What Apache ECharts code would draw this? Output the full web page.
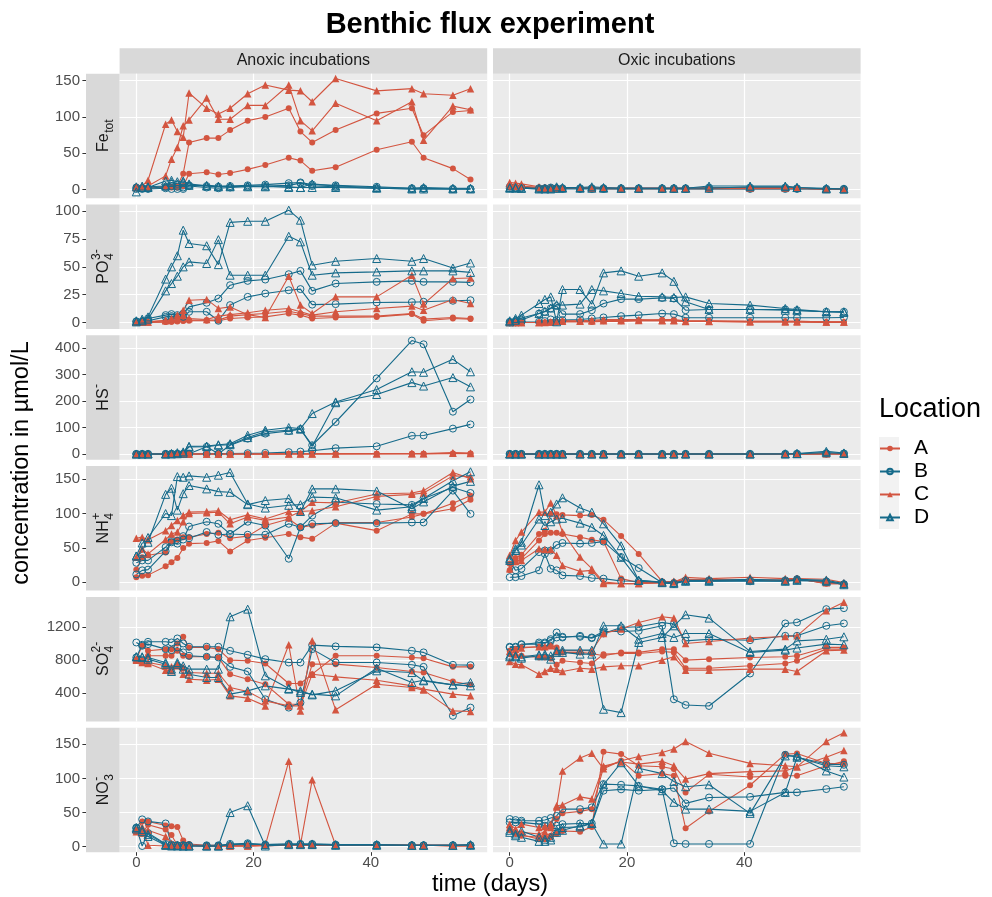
<!DOCTYPE html>
<html><head><meta charset="utf-8">
<script src="https://cdn.jsdelivr.net/npm/echarts@6/dist/echarts.min.js"></script>
<style>html,body{margin:0;padding:0;background:#fff}#chart{width:992px;height:897px}</style>
</head><body><div id="chart"></div>
<script>
// ---------------- DATA ----------------
const days = [0,1,2,5,6,7,8,9,12,14,16,19,22,26,28,30,34,41,47,49,54,57];
const locations = ['A','B','C','D'];
const conditions = ['Anoxic incubations','Oxic incubations'];
const xTicks = [0,20,40];

// Fe_tot
const feTicks = [0,50,100,150];
const feAnoxA = [[4,3,3,4,4,5,22,65,71,71,82,95,100,112,80,65,82,105,112,75,107,109],[3,3,2,3,3,3,5,22,24,21,23,28,34,44,40,26,31,55,66,44,29,14]];
const feAnoxB = [[3,2,2,4,5,4,3,6,5,4,5,6,7,9,10,7,6,4,2,2,1,1],[1,1,1,2,1,1,1,5,3,2,3,4,5,6,9,5,4,2,1,1,1,1]];
const feAnoxC = [[3,5,13,90,96,80,72,133,112,104,112,132,144,137,136,121,153,136,139,132,130,139],[4,4,5,19,42,58,88,96,126,97,97,116,116,144,95,81,119,95,121,68,115,110]];
const feAnoxD = [[-3,3,3,12,13,11,12,8,5,4,4,5,5,3,3,8,5,3,2,3,2,2],[4,5,4,5,10,8,10,6,6,5,5,4,4,4,3,3,3,2,1,1,1,1]];
const feOxA = [[5,4,4,3,3,3,2,2,2,2,2,2,2,2,2,2,2,2,2,2,1,1],[3,3,3,2,2,2,2,2,2,2,1,1,1,1,1,1,1,1,1,1,1,1]];
const feOxB = [[4,3,3,2,2,3,2,2,2,2,2,2,2,2,2,2,3,3,3,2,1,1],[2,2,2,1,1,1,1,1,1,1,1,1,1,1,1,1,1,1,1,1,1,1]];
const feOxC = [[10,9,8,4,3,3,3,2,2,3,2,2,2,2,2,2,2,2,2,2,1,1],[7,6,5,3,2,2,2,2,2,2,2,2,2,2,2,2,2,2,2,2,1,1]];
const feOxD = [[3,3,2,2,2,2,4,3,3,4,3,2,2,2,2,2,5,5,5,3,2,1],[2,2,2,1,1,1,2,2,2,2,2,2,2,2,2,2,2,4,4,3,1,1]];

// PO4
const poTicks = [0,25,50,75,100];
const poAnoxA = [[0,0,0.3,0.6,0.6,1.2,1.5,2.1,2.1,2.1,5.7,7,8,10,8,5.7,5.7,5.7,8,3,4.5,3.6],[0,0,0,0.3,0.6,0.9,1.2,1.5,1.5,1.5,3.6,4.5,5,8,6.6,3.6,4.5,5,7.5,1.5,3.6,3]];
const poAnoxB = [[1,1,3.6,6.6,7.5,6.6,8,14,17.7,21.5,33.5,37.4,38.6,43.4,46.4,28.4,35,36.5,37.4,36.5,36.5,36],[0.5,0.5,1.5,5,5.7,5,5,9.6,9.6,1.5,15.6,23,26,29,30,16,16.5,18,18.3,18.6,19.5,20]];
const poAnoxC = [[0.5,0.5,0.5,2,3.6,6.6,11,20,20.7,12.6,14,7,4.5,41.6,15.6,8,23,23,42.5,16.5,39.5,40],[0.5,0.5,0.5,1.5,2.7,4.5,6.6,3.6,2.7,5.7,7,8.7,11,12.6,9.6,6.6,9.6,12.6,14.7,11,20.7,17]];
const poAnoxD = [[1.5,3,5,39,50,60,83,71,69,52,90,91,91,101,92,51.5,55,57.5,55,57.5,49,53.5],[0.5,1.5,3,28.4,35,41.6,50,54.5,53,74.5,42.5,42.5,42.5,77.5,72.5,42.5,44.6,45.5,46.4,46.4,46.4,45]];
const poOxA = [[0,0,0,0,0,0.5,0.5,1,1,1,1.5,2,2,2.5,2.5,1.5,1.5,1,1,1,0.5,0.5],[0,0,0,0,0,0,0,0.5,0.5,0.5,1,1,1.5,1.5,1.5,1,1,0.5,0.5,0.5,0,0]];
const poOxB = [[0.6,1.5,2.1,8,9.6,12.6,14.7,7.5,7.5,11,17,21,21,22,21.5,11,11.7,11.7,11.7,11,9.6,9.6],[0,0,0.3,0.6,1.2,2.7,2.1,2.1,2.7,3.6,4.5,5.7,6.6,8,7.5,4.2,4.2,4.2,4.2,4.2,4.2,4.5]];
const poOxC = [[0.5,0,0,0,0,0.5,1,1.5,1.5,2,2.5,2.5,2.5,2,2,1,1,1,1,1,0.5,0.5],[0,0,0,0,0.3,0.5,0.8,1,1,1.2,1.5,1.5,1.8,1.5,1.5,0.8,0.8,0.5,0.5,0.5,0.3,0.3]];
const poOxD = [[1.5,3.6,6.6,17,20.7,23,0.6,29.6,29.6,16.5,44.6,46.4,41.6,44.6,37,18.6,11.7,11.7,11,10.5,9.6,9],[0.5,2,4,8,10,13,16,15.6,16.5,29.6,28.4,26,23.6,23,22.5,23,17,15.6,12.6,11.5,9.6,9.6]];

// HS
const hsTicks = [0,100,200,300,400];
const hsAnoxA = [[0,0,0,0,0,0,0,0,0,0,0,0,0,1,1,1,1,1,1,1,2,2],[0,0,0,0,0,0,0,0,0,0,0,0,0,0,0,0,1,1,1,1,1,1]];
const hsAnoxB = [[0,0,0,0,1,1,1,1,27,1,33,58,77,87,94,33,121,286,429,415,160,206],[0,0,0,0,0,0,0,0,1,1,2,3,4,7,9,12,22,29,69,70,96,112]];
const hsAnoxC = [[0,0,0,0,0,0,0,0,0,0,0,0,0,1,1,1,1,1,2,2,5,4],[0,0,0,0,0,0,0,0,0,0,0,0,0,0,0,0,0,1,1,1,3,2]];
const hsAnoxD = [[0,0,0,0,2,5,8,29,30,35,39,71,90,100,96,153,197,244,311,309,358,311],[0,0,0,0,0,1,3,27,28,33,35,62,84,90,94,29,194,225,270,257,289,254]];
const hsOxA = [[0,0,0,0,0,0,0,0,0,0,0,0,0,0,0,0,0,0,0,0,1,1],[0,0,0,0,0,0,0,0,0,0,0,0,0,0,0,0,0,0,0,0,0,0]];
const hsOxB = [[0,0,0,0,0,0,0,0,0,0,0,0,0,0,0,0,0,0,0,1,3,2],[0,0,0,0,0,0,0,0,0,0,0,0,0,0,0,0,0,0,0,0,1,1]];
const hsOxC = [[0,0,0,0,0,0,0,0,0,0,0,0,0,0,0,0,0,0,0,1,2,1],[0,0,0,0,0,0,0,0,0,0,0,0,0,0,0,0,0,0,0,0,1,0]];
const hsOxD = [[0,0,0,0,0,0,0,0,0,0,0,0,0,0,0,0,0,0,1,2,10,4],[0,0,0,0,0,0,0,0,0,0,0,0,0,0,0,0,0,0,0,1,5,2]];

// NH4
const nhTicks = [0,50,100,150];
const nhAnoxA = [[7,9,10,23,29,35,49.5,56,57,60,44.7,60.7,64.6,70,65.5,63,86,75,99.5,99.5,107,120],[18,36,39,43,59,62,65.5,65.5,70,72,64,67,82.5,92,80,82.5,87,87,95,99.5,115,126]];
const nhAnoxB = [[11,17,18,45,58,56,67,64,73,69,70,88,82.5,34,80,97,116.5,114,112.6,122,138,130],[28,31.5,31.5,51,60,60,62,81,88,85,70,69,69,85,80,85,86,86,87,87,133.5,99.5]];
const nhAnoxC = [[64,65.5,61.6,75,82.5,90,97,102,103,104,91,98,92,103,103,116.5,115.5,128.6,130,133.5,160,151],[36,48,41,62,70,73,88,100,101,102,85,95,90,95,103,104,110,125,128,130,155,154]];
const nhAnoxD = [[38,57,58,128,137,105,129,141,136,132,131,113,119,122,103,136,136,133,107,117,140,147],[38,44,65,100,97,154,153,155,153,156,160,114,108,112,113,124,123,105,110,122,148,161]];
const nhOxA = [[26.7,35,39.8,70,75,99.5,99,98,97,98,91,67,41,1,0,4,2.4,2.4,2.4,5,-2.4,-2.4],[17,29,34,60.7,70,72,72,70,65.5,61.6,59,4.9,-1,-1,0,2.4,2.4,2.4,2.4,5,-2.4,-2.4]];
const nhOxB = [[7,7,8.7,17,41,19.4,17,9.7,8.7,5.8,4.9,1.5,1,-1,-2.4,1,1,1,1,2.4,1,-3.4],[30,17,19.4,43.7,46,46,54,57,56,57,59,36.4,20.4,-1,-2.4,2.4,2.4,2.4,2.4,4,0,-3.4]];
const nhOxC = [[39,60.7,73,102,102,115.5,97,73,36.4,19.4,0,-2.4,-2.4,-1,0,7,4.9,7,4.9,4.9,4,-1],[19.4,30,31.5,48.5,47.6,47.6,39,24,15.5,17,-2.4,-2.4,-2.4,-1,1,4,4,2.4,2.4,4,-1,-2.4]];
const nhOxD = [[31.5,46,58,142,97,102,114,123,108,102,85,53,2.4,-1,-2.4,2.4,2.4,4,2.4,2.4,1,-4],[34,48.5,54,92,82.5,88,92,93,86,80,68,36,2.4,0,-1,1,1,2.4,1,4,2.4,-2.4]];

// SO4
const soTicks = [400,800,1200];
const soAnoxA = [[812,975,914,934,934,1003,1084,955,955,934,800,792,759,515,515,629,853,853,833,824,718,718],[800,792,853,853,853,914,853,841,841,833,629,568,507,263,263,751,751,710,662,649,540,499]];
const soAnoxB = [[1015,975,1023,1023,1015,1064,1003,963,963,963,914,865,812,771,771,983,967,955,914,894,743,739],[833,987,995,934,922,955,894,853,841,833,718,662,323,222,283,934,771,771,743,718,122,222]];
const soAnoxC = [[800,771,759,678,670,731,629,568,556,568,365,337,243,987,182,1035,195,507,467,435,182,174],[812,792,771,731,718,751,710,649,641,641,467,418,304,243,243,629,596,556,487,447,386,365]];
const soAnoxD = [[841,841,833,771,662,771,731,690,690,690,1328,1421,609,455,406,386,365,702,528,556,499,528],[841,833,812,751,690,751,690,629,589,589,386,426,487,447,426,377,426,670,649,548,499,487]];
const soOxA = [[914,934,955,963,955,975,955,894,894,881,853,894,894,934,934,800,812,833,841,853,955,955],[873,853,853,833,833,820,743,792,771,759,873,881,881,906,894,702,702,731,759,792,934,934]];
const soOxB = [[963,963,987,1015,1015,1035,1137,1076,1096,1076,1149,1149,1157,1218,323,254,242,637,1247,1259,1421,1433],[955,955,995,995,1003,1055,1076,1084,1084,1068,1125,1198,1206,1259,1239,1035,1055,1043,1096,1096,1218,1247]];
const soOxC = [[906,934,947,963,963,975,906,914,914,914,1125,1178,1259,1328,1312,1003,1027,1068,1088,1096,1402,1504],[784,751,743,629,662,702,690,662,702,690,718,731,731,800,841,678,678,690,690,662,914,922]];
const soOxD = [[861,853,841,865,853,812,914,922,922,922,202,161,1015,1076,1218,1353,1312,906,934,1035,1055,1084],[841,841,824,853,873,853,894,894,873,873,1218,1218,1055,1125,1076,1125,1125,894,922,947,995,987]];

// NO3
const noTicks = [0,50,100,150];
const noAnoxA = [[22,37,37,31,30,29,9,4,2,2,2,2,2,2,2,2,2,2,2,2,1,1],[25,19,32,25,17,2,2,2,1,1,1,1,1,2,2,2,2,2,2,2,1,1]];
const noAnoxB = [[27,40,37,34,2,2,2,2,2,2,4,5,3,4,4,4,3,3,2,2,2,2],[28,1,20,4,3,2,2,2,1,1,2,3,2,3,3,3,2,2,2,2,2,2]];
const noAnoxC = [[24,29,2,1,1,1,1,1,1,1,1,1,2,125,3,98,2,2,2,2,2,2],[22,20,24,15,5,3,2,2,1,1,1,1,2,3,3,2,2,2,2,2,2,2]];
const noAnoxD = [[28,22,15,2,1,1,1,1,1,1,50,60,1,3,3,3,2,2,2,2,2,3],[26,25,18,3,2,2,1,1,1,1,3,4,3,4,4,4,3,3,2,2,2,2]];
const noOxA = [[27,21,17.6,11,11,13.7,18.5,23,22,29,139,135.6,118.5,117,113.7,79.5,106,102,104,104,118.5,125],[24,18.5,16,13.7,13.7,16,40.5,49,51.7,55,116,126,104,107,104,27,51.7,90,135.6,136.6,122,121]];
const noOxB = [[40.5,39,38,38,39,42,45,55,55,57.6,91.7,90.7,89,84,5,4,4,4,134.6,131,121,120],[35.6,35.6,35.6,33,30.7,30.7,30.7,33,34,34,82,84,82,84,86,63.4,72,73,79.5,79.5,84.4,87.8]];
const noOxC = [[33,26,33,28,30,33,58,111,130,137,114,126,132,138,143,154,137,122,118.5,117,154,167],[28,23,21,18.5,22,28,60,61,73,70,118,124,121,125,118.5,99,107,110,111,117,131,141]];
const noOxD = [[24,18.5,23,13.7,11,13.7,21,24,30.7,34,4,4,115,107,95.6,87.8,90.7,48.8,133,133,111,102],[21,16,13.7,7.8,7.8,9.8,24,28,29,34,90.7,123,89,82,65,55,55,51.7,79.5,131,118.5,117]];

// ---------------- STYLE / LAYOUT ----------------
const FONT = '"Liberation Sans", Arial, Helvetica, sans-serif';
const RED = '#D35540', BLUE = '#156A8A';
const locStyle = {
  A: {color: RED,  symbol: 'circle',   size: 6,   filled: true},
  B: {color: BLUE, symbol: 'circle',   size: 7,   filled: false},
  C: {color: RED,  symbol: 'triangle', size: 7.5, filled: true},
  D: {color: BLUE, symbol: 'triangle', size: 8,   filled: false}
};
const rowsDef = [
  {main:'Fe', sub:'tot', sup:'',   range:[-11.7,159.6], ticks:feTicks, sets:[[feAnoxA,feAnoxB,feAnoxC,feAnoxD],[feOxA,feOxB,feOxC,feOxD]]},
  {main:'PO', sub:'4',   sup:'3-', range:[-5.9,106.1],  ticks:poTicks, sets:[[poAnoxA,poAnoxB,poAnoxC,poAnoxD],[poOxA,poOxB,poOxC,poOxD]]},
  {main:'HS', sub:'',    sup:'-',  range:[-22,449],     ticks:hsTicks, sets:[[hsAnoxA,hsAnoxB,hsAnoxC,hsAnoxD],[hsOxA,hsOxB,hsOxC,hsOxD]]},
  {main:'NH', sub:'4',   sup:'+',  range:[-12.6,169.3], ticks:nhTicks, sets:[[nhAnoxA,nhAnoxB,nhAnoxC,nhAnoxD],[nhOxA,nhOxB,nhOxC,nhOxD]]},
  {main:'SO', sub:'4',   sup:'2-', range:[54,1570],     ticks:soTicks, sets:[[soAnoxA,soAnoxB,soAnoxC,soAnoxD],[soOxA,soOxB,soOxC,soOxD]]},
  {main:'NO', sub:'3',   sup:'-',  range:[-8.1,174.3],  ticks:noTicks, sets:[[noAnoxA,noAnoxB,noAnoxC,noAnoxD],[noOxA,noOxB,noOxC,noOxD]]}
];
const X_MIN = -2.85, X_MAX = 59.85;
const PANEL_LEFT = [119.6, 493];
const PANEL_W = 367.6, PANEL_TOP0 = 73.7, PANEL_H = 124.5, ROW_STEP = 130.8;
const STRIP_LEFT_X = 86;

const grids = [], xAxes = [], yAxes = [], series = [];
rowsDef.forEach((row, r) => {
  row.sets.forEach((locArrs, c) => {
    const idx = r * 2 + c;
    const bottomRow = r === rowsDef.length - 1;
    grids.push({left: PANEL_LEFT[c], top: PANEL_TOP0 + r * ROW_STEP, width: PANEL_W, height: PANEL_H,
      show: true, backgroundColor: '#EBEBEB', borderWidth: 0, containLabel: false, outerBoundsMode: 'none'});
    xAxes.push({gridIndex: idx, type: 'value', min: X_MIN, max: X_MAX, position: 'bottom',
      axisLine: {show: false, onZero: false},
      axisTick: {show: bottomRow, length: 3.6, customValues: xTicks, lineStyle: {color: '#333333', width: 1}},
      axisLabel: {show: bottomRow, customValues: xTicks, margin: 3, fontSize: 15, color: '#4D4D4D', fontFamily: FONT,
        formatter: v => String(v)},
      splitLine: {show: true, lineStyle: {color: '#FFFFFF', width: 1.2}}});
    yAxes.push({gridIndex: idx, type: 'value', min: row.range[0], max: row.range[1], position: 'left',
      offset: c === 0 ? PANEL_LEFT[0] - STRIP_LEFT_X : 0,
      axisLine: {show: false, onZero: false},
      axisTick: {show: c === 0, length: 3.6, customValues: row.ticks, lineStyle: {color: '#333333', width: 1}},
      axisLabel: {show: c === 0, customValues: row.ticks, margin: 6, fontSize: 15, color: '#4D4D4D', fontFamily: FONT,
        formatter: v => String(v)},
      splitLine: {show: true, lineStyle: {color: '#FFFFFF', width: 1.2}}});
    locArrs.forEach((reps, li) => {
      const L = locations[li];
      const st = locStyle[L];
      reps.forEach(vals => {
        series.push({
          type: 'line', name: L, xAxisIndex: idx, yAxisIndex: idx,
          data: days.map((d, i) => [d, vals[i]]),
          symbol: st.symbol, symbolSize: st.size, showSymbol: true, silent: true,
          lineStyle: {color: st.color, width: 1.1, opacity: 1},
          itemStyle: st.filled ? {color: st.color, borderWidth: 0}
                               : {color: 'rgba(0,0,0,0)', borderColor: st.color, borderWidth: 1},
          emphasis: {disabled: true}
        });
      });
    });
  });
});

// strip labels with sub/superscripts
const mctx = document.createElement('canvas').getContext('2d');
function textW(t, size) { mctx.font = size + 'px ' + FONT; return mctx.measureText(t).width; }
function txt(x, y, t, size, extra) {
  return Object.assign({type: 'text', x: x, y: y, style: {text: t, fontSize: size, fontFamily: FONT, fill: '#1A1A1A',
    align: 'left', textAlign: 'left', verticalAlign: 'middle', textVerticalAlign: 'middle'}}, extra || {});
}
function stripLabel(row, cx, cy) {
  const wm = textW(row.main, 16);
  const ws = row.sub ? textW(row.sub, 12) : 0;
  const wp = row.sup ? textW(row.sup, 12) : 0;
  const W = wm + Math.max(ws, wp);
  const x0 = -W / 2;
  const children = [txt(x0, 0, row.main, 16)];
  if (row.sub) children.push(txt(x0 + wm + 0.5, 5.5, row.sub, 12));
  if (row.sup) children.push(txt(x0 + wm + 0.5, -7, row.sup, 12));
  return {type: 'group', x: cx, y: cy, rotation: Math.PI / 2, children: children};
}

const graphics = [];
graphics.push({type: 'text', x: 490, y: 25, style: {text: 'Benthic flux experiment', fontSize: 29, fontWeight: 'bold',
  fontFamily: FONT, fill: '#000', align: 'center', textAlign: 'center', verticalAlign: 'middle', textVerticalAlign: 'middle'}});
conditions.forEach((name, c) => {
  graphics.push({type: 'rect', shape: {x: PANEL_LEFT[c], y: 48.2, width: PANEL_W, height: PANEL_TOP0 - 48.2}, style: {fill: '#D9D9D9'}});
  graphics.push({type: 'text', x: PANEL_LEFT[c] + PANEL_W / 2, y: 61, style: {text: name, fontSize: 16, fontFamily: FONT, fill: '#1A1A1A',
    align: 'center', textAlign: 'center', verticalAlign: 'middle', textVerticalAlign: 'middle'}});
});
rowsDef.forEach((row, r) => {
  const top = PANEL_TOP0 + r * ROW_STEP;
  graphics.push({type: 'rect', shape: {x: STRIP_LEFT_X, y: top, width: PANEL_LEFT[0] - STRIP_LEFT_X, height: PANEL_H}, style: {fill: '#D9D9D9'}});
  graphics.push(stripLabel(row, (STRIP_LEFT_X + PANEL_LEFT[0]) / 2 + 1, top + PANEL_H / 2));
});
graphics.push({type: 'text', x: 22, y: 463, rotation: Math.PI / 2, style: {text: 'concentration in µmol/L', fontSize: 23.5, fontFamily: FONT,
  fill: '#000', align: 'center', textAlign: 'center', verticalAlign: 'middle', textVerticalAlign: 'middle'}});
graphics.push({type: 'text', x: 490, y: 885, style: {text: 'time (days)', fontSize: 23.5, fontFamily: FONT,
  fill: '#000', align: 'center', textAlign: 'center', verticalAlign: 'middle', textVerticalAlign: 'middle'}});
graphics.push({type: 'text', x: 879, y: 410, style: {text: 'Location', fontSize: 27, fontFamily: FONT,
  fill: '#000', align: 'left', textAlign: 'left', verticalAlign: 'middle', textVerticalAlign: 'middle'}});
graphics.push({type: 'rect', shape: {x: 879, y: 437, width: 20, height: 92}, style: {fill: '#F2F2F2'}});

const chart = echarts.init(document.getElementById('chart'), null, {renderer: 'canvas'});
chart.setOption({
  animation: false,
  backgroundColor: '#FFFFFF',
  textStyle: {fontFamily: FONT},
  grid: grids, xAxis: xAxes, yAxis: yAxes, series: series,
  graphic: {elements: graphics},
  legend: {
    data: locations, orient: 'vertical', left: 879, top: 437, padding: 0,
    itemWidth: 20, itemHeight: 7, itemGap: 0, selectedMode: false, z: 10,
    textStyle: {fontSize: 21, fontFamily: FONT, color: '#000', lineHeight: 23, padding: [0, 0, 0, 9]}
  }
});
</script></body></html>
